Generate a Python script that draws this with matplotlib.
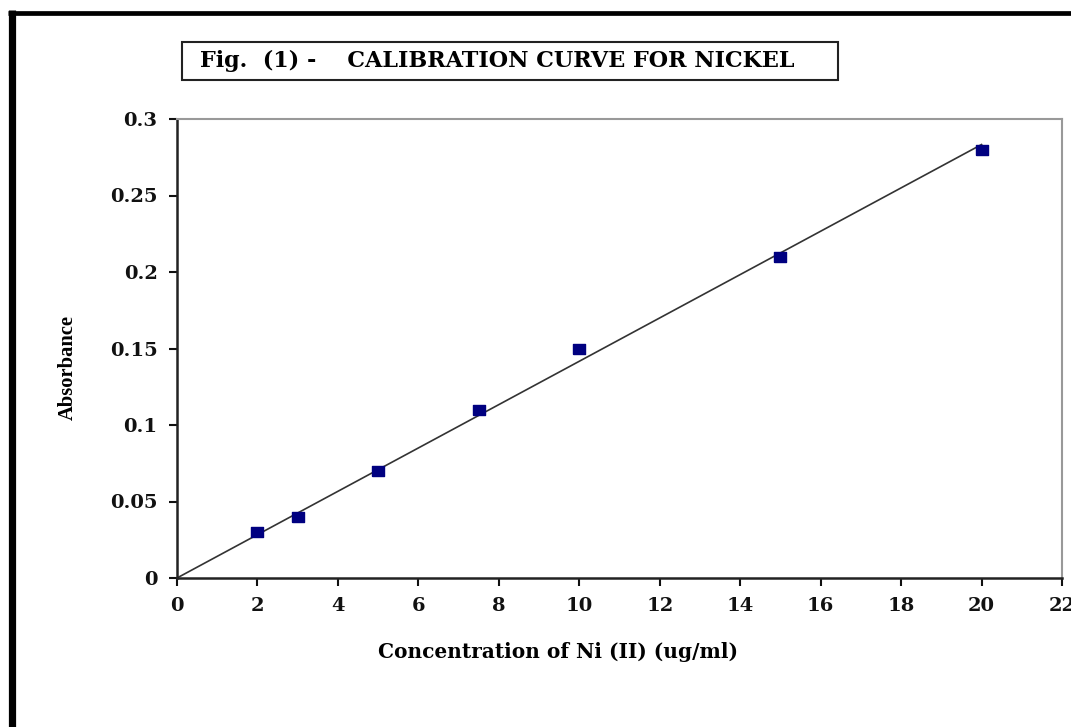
import matplotlib
matplotlib.use('Agg')
import matplotlib.pyplot as plt
import numpy as np
from matplotlib.lines import Line2D
from matplotlib.patches import Rectangle

conc_ugml = [2, 3, 5, 7.5, 10, 15, 20]
absorbance = [0.03, 0.04, 0.07, 0.11, 0.15, 0.21, 0.28]
x_ticks = [0, 2, 4, 6, 8, 10, 12, 14, 16, 18, 20, 22]
y_ticks = [0, 0.05, 0.1, 0.15, 0.2, 0.25, 0.3]
y_tick_labels = ['0', '0.05', '0.1', '0.15', '0.2', '0.25', '0.3']

# the source image is stretched sideways, a wide serif fits it better
plt.rcParams['font.family'] = ['DejaVu Serif']
plt.rcParams['font.weight'] = 'bold'

fig = plt.figure(figsize=(10.71, 7.27), dpi=100)
ax = fig.add_axes([177 / 1071, 1 - 578 / 727, 885 / 1071, 459 / 727])

# linear trendline through the origin
x = np.array(conc_ugml)
y = np.array(absorbance)
slope = np.sum(x * y) / np.sum(x * x)
xl = np.array([0, max(conc_ugml)])
ax.plot(xl, slope * xl, color='#333333', lw=1.2, zorder=2)

box = [(-1.25, -1), (1.25, -1), (1.25, 1), (-1.25, 1), (-1.25, -1)]
ax.plot(conc_ugml, absorbance, ls='none', marker=box, ms=8.8,
        color='#000080', mec='#000080', zorder=3)

ax.set_xlim(0, 22)
ax.set_ylim(0, 0.3)
ax.set_xticks(x_ticks)
ax.set_yticks(y_ticks)
ax.set_yticklabels(y_tick_labels)
ax.tick_params(direction='out', length=6, width=1.5, labelsize=14,
               colors='#111111', pad=8)
for s in ['left', 'bottom']:
    ax.spines[s].set_color('#222222')
    ax.spines[s].set_linewidth(1.8)
for s in ['top', 'right']:
    ax.spines[s].set_color('#999999')
    ax.spines[s].set_linewidth(1.5)

ax.set_xlabel('Concentration of Ni (II) (ug/ml)', fontsize=14.5,
              fontweight='bold')
ax.xaxis.set_label_coords((558 - 177) / 885, -(652 - 578) / 459)
ax.xaxis.label.set_va('center')
ax.set_ylabel('Absorbance', fontsize=14.8, fontweight='bold',
              family=['Liberation Serif', 'DejaVu Serif'])
ax.yaxis.set_label_coords(-(177 - 68) / 885, (578 - 367) / 459)
ax.yaxis.label.set_va('center')

# title box
fig.patches.append(Rectangle((182 / 1071, 1 - 80 / 727), 656 / 1071, 38 / 727,
                             transform=fig.transFigure, fill=False,
                             edgecolor='#222222', lw=1.5))
fig.text(200 / 1071, 1 - 61 / 727,
         'Fig.  (1) -    CALIBRATION CURVE FOR NICKEL',
         fontsize=16, fontweight='bold', va='center', ha='left')

# outer page frame (left and top edges)
fig.lines.append(Line2D([11.5 / 1071, 11.5 / 1071], [0, 1 - 10 / 727],
                        transform=fig.transFigure, color='black', lw=5.2,
                        solid_capstyle='butt'))
fig.lines.append(Line2D([8 / 1071, 1], [1 - 12.5 / 727, 1 - 12.5 / 727],
                        transform=fig.transFigure, color='black', lw=3.4,
                        solid_capstyle='butt'))

fig.savefig('out.png', dpi=100)
